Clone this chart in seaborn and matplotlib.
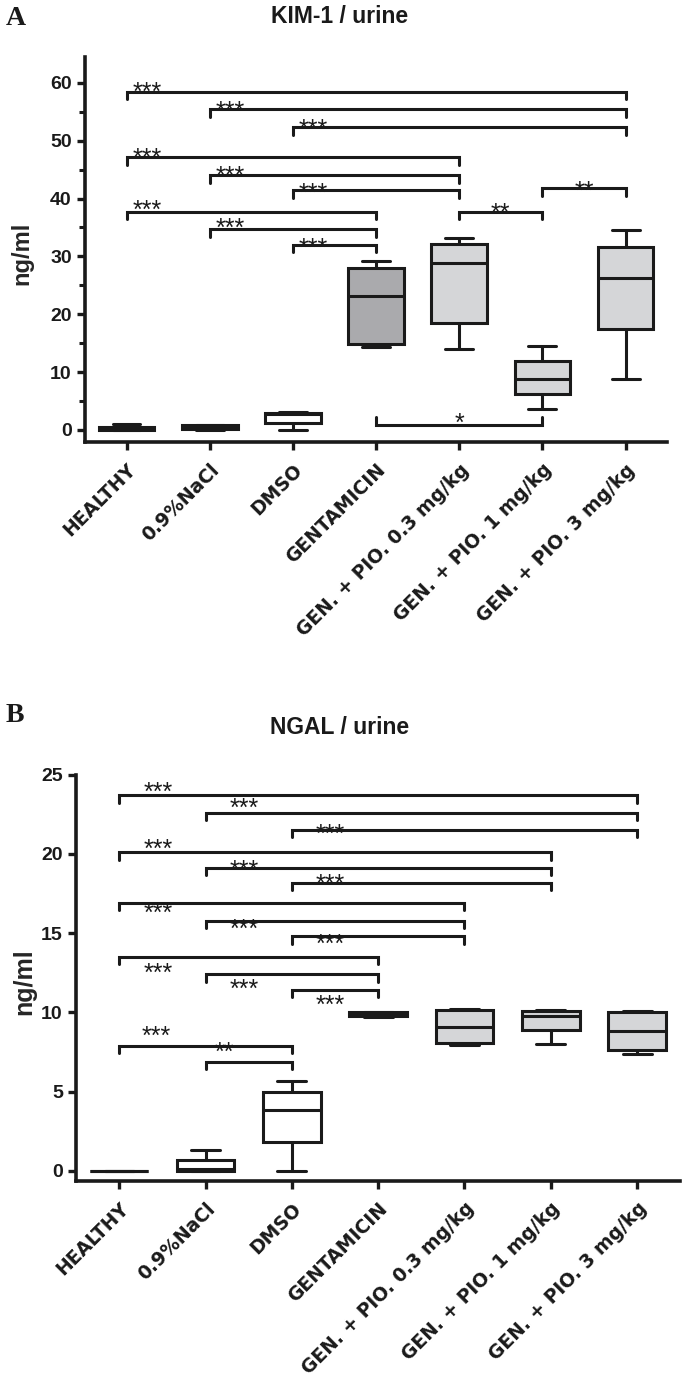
import numpy as np
import pandas as pd
import matplotlib
matplotlib.use('Agg')
import matplotlib.pyplot as plt
import matplotlib.transforms as mtransforms
import seaborn as sns

# groups (x axis)
groups = ['HEALTHY', '0.9%NaCl', 'DMSO', 'GENTAMICIN',
          'GEN. + PIO. 0.3 mg/kg', 'GEN. + PIO. 1 mg/kg', 'GEN. + PIO. 3 mg/kg']
box_colors = ['white', 'white', 'white', '#a9aaad', '#d5d6d8', '#d5d6d8', '#d5d6d8']

# five-number summaries: min, q1, median, q3, max
kim_min = [0.0, 0.0, 0.0, 14.4, 14.0, 3.6, 8.8]
kim_q1 = [0.05, 0.1, 1.2, 14.8, 18.5, 6.2, 17.5]
kim_med = [0.3, 0.4, 2.7, 23.1, 28.9, 8.8, 26.3]
kim_q3 = [0.6, 0.8, 2.9, 28.0, 32.2, 12.0, 31.7]
kim_max = [1.0, 0.9, 3.1, 29.2, 33.1, 14.5, 34.5]

ngal_min = [0.0, 0.0, 0.0, 9.7, 7.95, 8.0, 7.35]
ngal_q1 = [0.0, 0.0, 1.8, 9.8, 8.08, 8.9, 7.65]
ngal_med = [0.0, 0.1, 3.85, 9.9, 9.1, 9.8, 8.8]
ngal_q3 = [0.0, 0.68, 5.0, 10.0, 10.13, 10.1, 10.05]
ngal_max = [0.0, 1.33, 5.7, 10.05, 10.2, 10.15, 10.1]

# significance brackets: left group, right group, height, label, label position
kim_br_left = [0, 1, 2, 0, 1, 2, 0, 1, 2, 4, 5, 3]
kim_br_right = [6, 6, 6, 4, 4, 4, 3, 3, 3, 5, 6, 5]
kim_br_y = [58.5, 55.4, 52.3, 47.1, 44.0, 41.4, 37.7, 34.7, 32.0, 37.7, 41.8, 0.9]
kim_br_lab = ['***'] * 9 + ['**', '**', '*']
kim_lab_x = [0.25, 1.25, 2.25, 0.25, 1.25, 2.25, 0.25, 1.25, 2.25, 4.5, 5.5, 4.0]
kim_lab_y = [59.6, 56.3, 53.2, 48.1, 45.0, 42.1, 39.2, 36.1, 32.6, 38.6, 42.5, 2.3]

ngal_br_left = [0, 1, 2, 0, 1, 2, 0, 1, 2, 0, 1, 2, 0, 1]
ngal_br_right = [6, 6, 6, 5, 5, 5, 4, 4, 4, 3, 3, 3, 2, 2]
ngal_br_y = [23.7, 22.6, 21.5, 20.1, 19.1, 18.2, 16.9, 15.8, 14.8, 13.5, 12.4, 11.4, 7.9, 6.9]
ngal_br_lab = ['***'] * 13 + ['**']
ngal_lab_x = [0.45, 1.45, 2.45, 0.45, 1.45, 2.45, 0.45, 1.45, 2.45, 0.45, 1.45, 2.45, 0.43, 1.22]
ngal_lab_y = [24.3, 23.3, 21.7, 20.7, 19.4, 18.5, 16.7, 15.7, 14.7, 12.9, 11.9, 10.9, 8.9, 7.9]


def make_df(*cols):
    rows = []
    for i, g in enumerate(groups):
        for c in cols:
            rows.append((g, c[i]))
    return pd.DataFrame(rows, columns=['group', 'value'])


kim = make_df(kim_min, kim_q1, kim_med, kim_q3, kim_max)
ngal = make_df(ngal_min, ngal_q1, ngal_med, ngal_q3, ngal_max)

sns.set_style('ticks')
plt.rcParams['font.family'] = ['Liberation Sans', 'DejaVu Sans']

fig = plt.figure(figsize=(6.85, 13.86), dpi=100)
ax1 = fig.add_axes([0.124, 0.681, 0.850, 0.278])
ax2 = fig.add_axes([0.111, 0.148, 0.882, 0.293])

INK = '#1a1a1a'
STAR_FS = 18


def draw_panel(ax, df, ymin, ymax, yticks, br_l, br_r, br_y, br_lab, lab_x, lab_y, drop, lab_fs):
    sns.boxplot(data=df, x='group', y='value', hue='group', palette=box_colors,
                legend=False, whis=(0, 100), width=0.67, linecolor=INK,
                linewidth=2.2, ax=ax)
    ax.set_xlim(-0.5, 6.5)
    ax.set_ylim(ymin, ymax)
    ax.set_yticks(yticks)
    ax.set_xlabel('')
    ax.set_ylabel('ng/ml', fontsize=lab_fs, fontweight='bold')
    sns.despine(ax=ax)
    for s in ['left', 'bottom']:
        ax.spines[s].set_linewidth(2.6)
        ax.spines[s].set_color(INK)
    ax.tick_params(axis='both', width=2.4, length=6, color=INK)
    ax.tick_params(axis='x', pad=7)
    ax.set_xticks(range(len(groups)))
    ax.set_xticklabels(groups, rotation=45, ha='right', rotation_mode='anchor',
                       fontsize=13.5, fontweight='bold', family='DejaVu Sans', color=INK)
    for t in ax.get_yticklabels():
        t.set_fontsize(14)
        t.set_fontweight('bold')
        t.set_family(['Liberation Sans Narrow', 'Liberation Sans'])
        t.set_color(INK)
    # asterisk glyph sits ~0.575 em above the baseline
    star_tr = mtransforms.offset_copy(ax.transData, fig=fig, y=-0.575 * STAR_FS, units='points')
    for l, r, y, lab, lx, ly in zip(br_l, br_r, br_y, br_lab, lab_x, lab_y):
        d = drop if y > 3 else -drop
        ax.plot([l, l, r, r], [y - d, y, y, y - d], color=INK, lw=2.2,
                solid_joinstyle='miter', clip_on=False)
        ax.text(lx, ly, lab, ha='center', va='baseline', fontsize=STAR_FS,
                color=INK, transform=star_tr)


draw_panel(ax1, kim, -2.1, 64.5, [0, 10, 20, 30, 40, 50, 60],
           kim_br_left, kim_br_right, kim_br_y, kim_br_lab, kim_lab_x, kim_lab_y, 1.3, 17)
ax1.set_yticks(np.arange(5, 60, 10), minor=True)
ax1.tick_params(axis='y', which='minor', width=2.2, length=4, color=INK)
ax1.yaxis.set_label_coords(-0.088, 0.49)

draw_panel(ax2, ngal, -0.63, 25.0, [0, 5, 10, 15, 20, 25],
           ngal_br_left, ngal_br_right, ngal_br_y, ngal_br_lab, ngal_lab_x, ngal_lab_y, 0.45, 18)
ax2.yaxis.set_label_coords(-0.066, 0.49)

fig.text(0.496, 0.988, 'KIM-1 / urine', ha='center', va='center', fontsize=16.5,
         fontweight='bold', color=INK)
fig.text(0.496, 0.475, 'NGAL / urine', ha='center', va='center', fontsize=16.5,
         fontweight='bold', color=INK)
fig.text(0.008, 0.987, 'A', ha='left', va='center', fontsize=20, fontweight='bold',
         family='Liberation Serif', color=INK)
fig.text(0.008, 0.484, 'B', ha='left', va='center', fontsize=20, fontweight='bold',
         family='Liberation Serif', color=INK)

fig.savefig('out.png', dpi=100)
